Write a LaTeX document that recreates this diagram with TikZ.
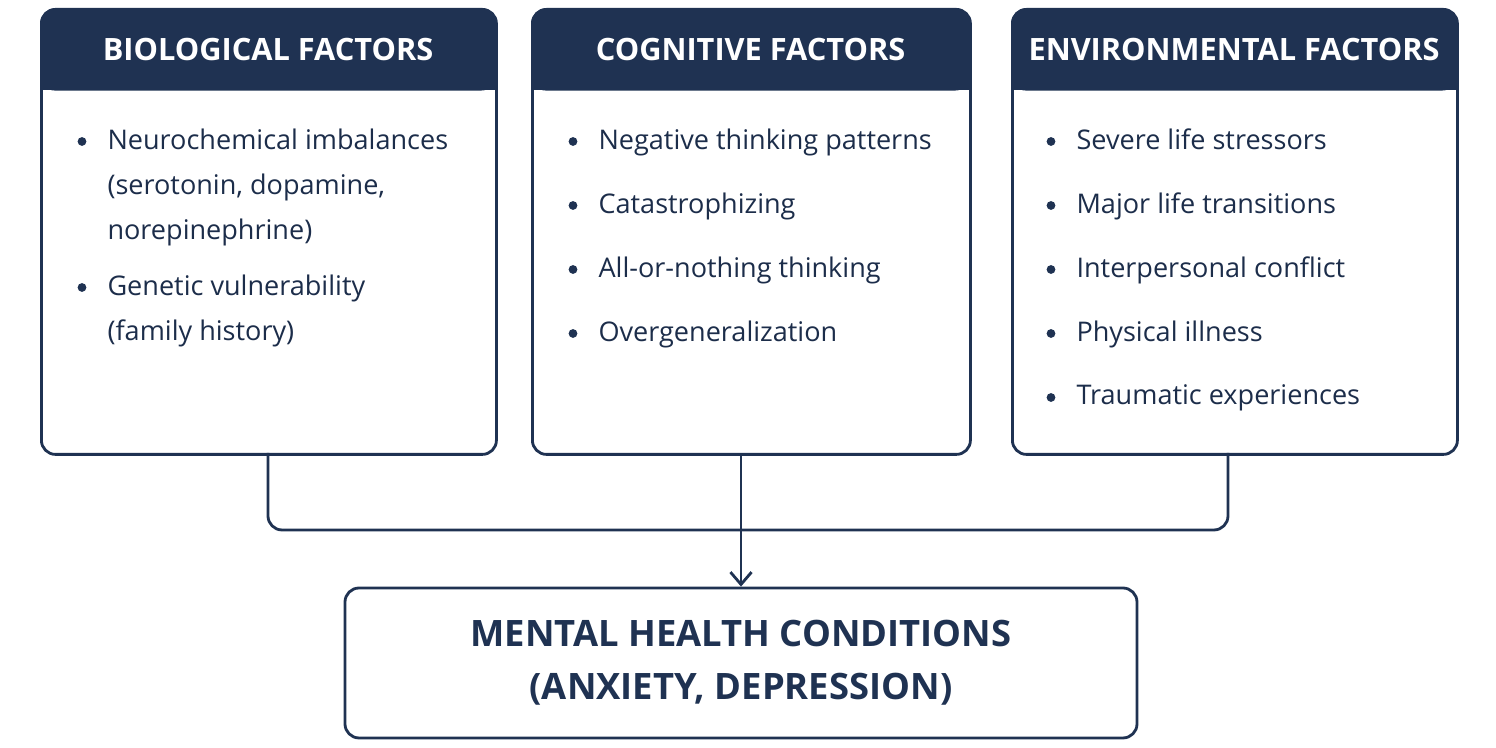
\documentclass[tikz,border=0pt]{standalone}
\usepackage{fontspec}
\setmainfont{Open Sans}
\usetikzlibrary{positioning,arrows.meta}
\definecolor{navy}{HTML}{1F3252}
\begin{document}
\begin{tikzpicture}[semithick,
    panel/.style={draw=navy, line width=1.6pt, rounded corners=8pt, minimum height=8.9cm, anchor=north west},
    head/.style={fill=navy, rounded corners=8pt, minimum height=1.64cm, anchor=north west, text=white, font=\fontsize{17.5}{21}\selectfont\bfseries},
    item/.style={anchor=north west, align=left, inner sep=0pt, text=navy!90!black, font=\fontsize{15.4}{22.8}\selectfont},
    dot/.style={circle, fill=navy, inner sep=0pt, minimum size=5pt},
    link/.style={draw=navy, line width=1.6pt, rounded corners=8pt}]

    \useasboundingbox (0,0) rectangle (29.92,14.96);

    % Panels
    \node[panel, minimum width=9.1cm] (bio) at (0.8,14.8) {};
    \node[panel, minimum width=8.76cm] (cog) at (10.62,14.8) {};
    \node[panel, minimum width=8.9cm] (env) at (20.22,14.8) {};
    \node[head, minimum width=9.1cm] (bioh) at (bio.north west) {\raisebox{-3pt}{BIOLOGICAL FACTORS}};
    \node[head, minimum width=8.76cm] (cogh) at (cog.north west) {\raisebox{-3pt}{COGNITIVE FACTORS}};
    \node[head, minimum width=8.9cm] (envh) at (env.north west) {\raisebox{-3pt}{ENVIRONMENTAL FACTORS}};
    \fill[navy] (0.8,13.16) rectangle (9.9,13.6);
    \fill[navy] (10.62,13.16) rectangle (19.38,13.6);
    \fill[navy] (20.22,13.16) rectangle (29.12,13.6);

    % Items
    \foreach \name/\y/\txt in {b1/12.4/{Neurochemical imbalances\\[3pt](serotonin, dopamine,\\[3pt]norepinephrine)},
                                b2/9.48/{Genetic vulnerability\\[3pt](family history)}}{
      \node[item] (\name) at (2.14,\y) {\txt};
      \node[dot] at (1.64,\y-0.27) {};
    }
    \foreach \name/\y/\txt in {c1/12.4/{Negative thinking patterns},
                                c2/11.12/{Catastrophizing},
                                c3/9.84/{All-or-nothing thinking},
                                c4/8.56/{Overgeneralization}}{
      \node[item] (\name) at (11.96,\y) {\txt};
      \node[dot] at (11.46,\y-0.27) {};
    }
    \foreach \name/\y/\txt in {e1/12.4/{Severe life stressors},
                                e2/11.12/{Major life transitions},
                                e3/9.84/{Interpersonal conflict},
                                e4/8.56/{Physical illness},
                                e5/7.28/{Traumatic experiences}}{
      \node[item] (\name) at (21.52,\y) {\txt};
      \node[dot] at (21.02,\y-0.27) {};
    }

    % Outcome
    \node[draw=navy, line width=1.6pt, rounded corners=8pt, minimum width=15.84cm, minimum height=3cm,
          align=center, text=navy, font=\fontsize{20.7}{30}\selectfont\bfseries] (out) at (14.82,1.7)
          {MENTAL HEALTH CONDITIONS\\(ANXIETY, DEPRESSION)};

    % Connectors
    \draw[link] (5.36,5.9) |- (24.56,4.36) -- (24.56,5.9);
    \draw[link, -{Straight Barb[length=7pt,width=12pt]}] (out.north |- cog.south) -- (out.north);
\end{tikzpicture}
\end{document}
